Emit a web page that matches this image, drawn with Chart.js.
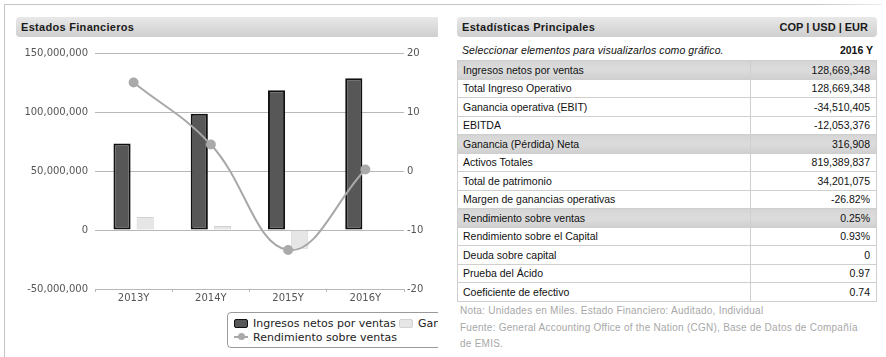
<!DOCTYPE html>
<html><head><meta charset="utf-8">
<script src="https://cdn.jsdelivr.net/npm/chart.js@4.4.1/dist/chart.umd.min.js"></script>
<style>
body{margin:0;background:#fff;width:886px;height:357px;overflow:hidden;position:relative;font-family:"Liberation Sans",Arial,sans-serif;}
#frameTop{position:absolute;left:4px;top:4px;width:878px;height:1px;background:linear-gradient(to right,#c4c4c4 0%,#c4c4c4 92%,#eee 100%);}
#frameLeft{position:absolute;left:4px;top:4px;width:1px;height:353px;background:#c4c4c4;}
#left{position:absolute;left:0;top:0;width:438px;height:357px;overflow:hidden;}
.hdr{position:absolute;height:20px;border-radius:4px;background:linear-gradient(#e8e8e8,#cfcfcf);font-weight:bold;font-size:11px;color:#1a1a1a;line-height:20px;letter-spacing:0.3px;box-sizing:border-box;padding:0 5px;}
#hdrL{left:16px;top:17px;width:424px;}
#hdrR{left:457px;top:17px;width:420px;padding-right:9px;}
#hdrR span{float:right;letter-spacing:0;}
#chartBox{position:absolute;left:0;top:40px;width:438px;height:272px;}
#legend{position:absolute;left:227px;top:312px;width:300px;height:36px;border:1px solid #9a9a9a;border-radius:4px;box-sizing:border-box;font-family:"DejaVu Sans";font-size:11px;color:#222;background:#fff;}
.li{position:absolute;white-space:nowrap;line-height:13px;}
.mk{position:absolute;}
#sub{position:absolute;left:462px;top:43px;width:411px;font-size:10.5px;font-style:italic;color:#111;line-height:14px;letter-spacing:0.1px;}
#sub b{position:absolute;right:0;top:0;font-style:normal;letter-spacing:0;}
table{position:absolute;left:457px;top:60px;width:420px;border-collapse:collapse;font-size:10.5px;color:#111;}
td{height:17.5px;padding:0 5px;border:1px solid #cfcfcf;line-height:16px;}
td.v{text-align:right;padding-right:6px;width:114px;}
tr.hl td{background:linear-gradient(#d6d6d6,#dcdcdc 50%,#cfcfcf);}
#notes{position:absolute;left:460px;top:303px;font-size:10px;color:#a8a8a8;letter-spacing:0.25px;line-height:16.5px;white-space:nowrap;}
</style></head>
<body>
<div id="frameTop"></div><div id="frameLeft"></div>
<div id="left">
  <div class="hdr" id="hdrL">Estados Financieros</div>
  <div id="chartBox"><canvas id="c" width="438" height="272"></canvas></div>
  <div id="legend"></div>
</div>
<div class="hdr" id="hdrR">Estadísticas Principales<span>COP | USD | EUR</span></div>
<div id="sub">Seleccionar elementos para visualizarlos como gráfico.<b>2016 Y</b></div>
<table id="tbl"></table>
<div id="notes">Nota: Unidades en Miles. Estado Financiero: Auditado, Individual<br>Fuente: General Accounting Office of the Nation (CGN), Base de Datos de Compañía<br>de EMIS.</div>
<script>
const categories = ["2013Y", "2014Y", "2015Y", "2016Y"];
const ingresosNetos = [73300000, 98600000, 118400000, 128669348];
const gananciaNeta = [11000000, 3300000, -15900000, 316908];
const rendimientoVentas = [15.0, 4.5, -13.4, 0.25];
const leftTicks = [-50000000, 0, 50000000, 100000000, 150000000];
const rightTicks = [-20, -10, 0, 10, 20];
const seriesNames = ["Ingresos netos por ventas", "Ganancia (Pérdida) Neta", "Rendimiento sobre ventas"];

const statLabels = ["Ingresos netos por ventas","Total Ingreso Operativo","Ganancia operativa (EBIT)","EBITDA","Ganancia (Pérdida) Neta","Activos Totales","Total de patrimonio","Margen de ganancias operativas","Rendimiento sobre ventas","Rendimiento sobre el Capital","Deuda sobre capital","Prueba del Ácido","Coeficiente de efectivo"];
const statValues = ["128,669,348","128,669,348","-34,510,405","-12,053,376","316,908","819,389,837","34,201,075","-26.82%","0.25%","0.93%","0","0.97","0.74"];
const highlighted = [0, 4, 8];

const tbl = document.getElementById('tbl');
statLabels.forEach((l, i) => {
  const tr = document.createElement('tr');
  if (highlighted.includes(i)) tr.className = 'hl';
  const a = document.createElement('td'); a.textContent = l;
  const b = document.createElement('td'); b.className = 'v'; b.textContent = statValues[i];
  tr.appendChild(a); tr.appendChild(b); tbl.appendChild(tr);
});

const font = {family: 'DejaVu Sans', size: 10};
const chart = new Chart(document.getElementById('c'), {
  type: 'bar',
  data: {
    labels: categories,
    datasets: [
      {type: 'line', label: seriesNames[2], data: rendimientoVentas, yAxisID: 'y1', borderColor: '#a8a8a8', backgroundColor: '#a8a8a8', borderWidth: 2, pointRadius: 4, pointBackgroundColor: '#aaaaaa', pointBorderColor: '#aaaaaa', tension: 0.4, order: 0},
      {label: seriesNames[0], data: ingresosNetos, yAxisID: 'y', backgroundColor: '#575757', borderColor: '#111', borderWidth: 2, borderSkipped: false, order: 1},
      {label: seriesNames[1], data: gananciaNeta, yAxisID: 'y', backgroundColor: '#e6e6e6', borderColor: '#d2d2d2', borderWidth: 1, borderSkipped: false, order: 1}
    ]
  },
  options: {
    responsive: false, animation: false,
    layout: {padding: {top: 12, left: 0, right: 0, bottom: 0}},
    plugins: {legend: {display: false}, tooltip: {enabled: false}},
    datasets: {bar: {categoryPercentage: 0.6, barPercentage: 0.74}},
    scales: {
      x: {
        grid: {display: true, drawOnChartArea: false, drawTicks: true, tickLength: 3, color: '#b8b8b8', offset: true},
        border: {display: true, color: '#b8b8b8'},
        ticks: {font: font, color: '#555', padding: 0},
        afterFit(s) { s.height = 23; }
      },
      y: {
        position: 'left', min: -50000000, max: 150000000,
        afterBuildTicks(s) { s.ticks = leftTicks.map(v => ({value: v})); },
        ticks: {font: font, color: '#555', padding: 7, callback: v => Number(v).toLocaleString('en-US')},
        grid: {color: '#b8b8b8', drawTicks: false},
        border: {display: false},
        afterFit(s) { s.width = 95; }
      },
      y1: {
        position: 'right', min: -20, max: 20,
        afterBuildTicks(s) { s.ticks = rightTicks.map(v => ({value: v})); },
        ticks: {font: font, color: '#555', padding: 3},
        grid: {drawOnChartArea: false, drawTicks: false},
        border: {display: false},
        afterFit(s) { s.width = 34; }
      }
    }
  }
});

// HTML legend built from the chart's datasets
const lg = document.getElementById('legend');
const ds = chart.data.datasets;
function addItem(d, x, y, kind) {
  const m = document.createElement('div'); m.className = 'mk';
  if (kind === 'bar') {
    Object.assign(m.style, {left: x + 'px', top: (y + 2) + 'px', width: '14px', height: '9px', background: d.backgroundColor, border: '1px solid ' + d.borderColor, borderRadius: '2px', boxSizing: 'border-box'});
  } else {
    Object.assign(m.style, {left: x + 'px', top: (y + 5) + 'px', width: '14px', height: '2px', background: d.borderColor});
    const dot = document.createElement('div');
    Object.assign(dot.style, {position: 'absolute', left: '4px', top: '-3px', width: '7px', height: '7px', borderRadius: '50%', background: d.pointBackgroundColor});
    m.appendChild(dot);
  }
  lg.appendChild(m);
  const t = document.createElement('div'); t.className = 'li';
  t.style.left = (x + 19) + 'px'; t.style.top = y + 'px'; t.textContent = d.label;
  lg.appendChild(t);
}
addItem(ds[1], 6, 4, 'bar');
addItem(ds[2], 171, 4, 'bar');
addItem(ds[0], 6, 18, 'line');
</script>
</body></html>
